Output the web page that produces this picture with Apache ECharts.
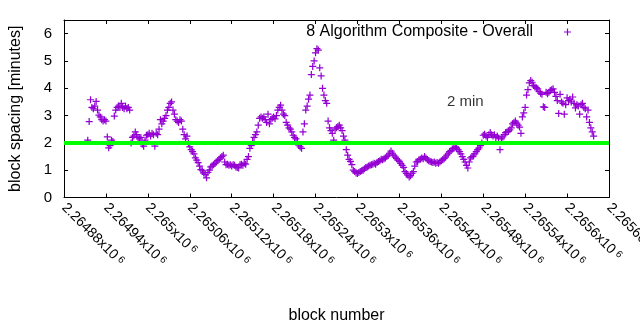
<!DOCTYPE html>
<html>
<head>
<meta charset="utf-8">
<script src="https://cdn.jsdelivr.net/npm/echarts@6/dist/echarts.min.js"></script>
<style>html,body{margin:0;padding:0;background:#fff;}#c{width:640px;height:330px;}</style>
</head>
<body>
<div id="c"></div>
<script>
// x range and ticks (block numbers)
const xMin = 2264880, xMax = 2265660, xStep = 60;
const yMin = 0, yMax = 6.5, yStep = 1;
// consecutive blocks sampled every 2 blocks
const firstBlock = 2264914, blockStep = 2;
const seriesName = '8 Algorithm Composite - Overall';
const spacing = [
2.1,2.78,3.58,3.3,3.25,3.35,3.52,3.2,3.02,2.95,
2.85,2.8,2.85,2.8,2.22,1.82,1.9,2.1,2.05,2.98,
3.2,3.3,3.35,3.3,3.45,3.3,3.25,3.35,3.25,3.3,
3.2,2.0,2.2,2.25,2.4,2.3,2.2,2.15,2.2,1.95,
1.88,2.1,2.28,2.3,2.35,2.25,2.35,2.3,1.88,2.35,
2.3,2.5,2.85,2.7,2.8,2.9,3.0,3.2,3.3,3.45,
3.5,3.2,3.05,2.85,2.8,2.75,2.85,2.8,2.5,2.3,
2.15,2.25,1.98,1.85,1.75,1.68,1.6,1.45,1.37,1.28,
1.15,1.02,0.98,0.9,0.85,0.72,0.92,1.0,1.12,1.15,
1.2,1.25,1.3,1.35,1.4,1.45,1.5,1.55,1.3,1.2,
1.22,1.18,1.2,1.15,1.2,1.18,1.12,1.1,1.08,1.2,
1.22,1.18,1.25,1.22,1.4,1.5,1.8,1.9,2.05,2.2,
2.3,2.4,2.65,2.9,2.95,2.9,2.95,2.85,2.75,3.05,
2.7,2.85,2.9,2.95,2.88,3.0,3.2,3.3,3.38,3.2,
3.05,3.0,2.75,2.65,2.55,2.5,2.4,2.28,2.2,2.15,
2.05,1.92,1.85,1.8,2.4,2.7,3.2,3.35,3.6,3.75,
4.5,4.8,5.0,5.3,5.45,5.4,4.75,4.45,4.0,3.75,
3.55,3.45,2.8,2.55,2.45,2.35,2.1,2.5,2.55,2.6,
2.65,2.55,2.45,2.25,2.1,1.75,1.55,1.4,1.32,1.2,
1.0,0.95,0.9,0.88,0.92,0.95,0.98,1.0,1.05,1.1,
1.12,1.15,1.18,1.2,1.22,1.25,1.22,1.28,1.32,1.35,
1.4,1.38,1.42,1.45,1.5,1.55,1.62,1.7,1.62,1.55,
1.48,1.42,1.37,1.32,1.25,1.18,1.1,0.95,0.88,0.82,
0.75,0.8,0.88,0.95,1.15,1.3,1.32,1.38,1.4,1.45,
1.42,1.5,1.45,1.38,1.35,1.32,1.3,1.28,1.3,1.25,
1.28,1.25,1.3,1.35,1.38,1.42,1.48,1.55,1.62,1.68,
1.72,1.78,1.8,1.85,1.82,1.75,1.68,1.6,1.5,1.4,
1.3,1.18,1.08,1.3,1.45,1.5,1.52,1.6,1.68,1.75,
1.82,1.9,2.0,2.28,2.32,2.25,2.2,2.3,2.38,2.3,
2.25,2.3,2.2,2.25,2.18,1.75,2.15,2.22,2.3,2.38,
2.4,2.42,2.48,2.55,2.7,2.75,2.8,2.72,2.65,2.58,
2.35,2.95,3.1,3.3,3.75,3.95,4.2,4.28,4.22,4.1,
4.05,4.02,3.98,3.88,3.82,3.78,3.32,3.3,3.85,3.8,
3.85,3.92,3.95,3.98,3.85,3.7,3.55,3.08,3.78,3.5,
3.45,3.05,3.4,3.65,3.55,3.6,3.5,3.68,3.45,3.28,
3.4,3.35,3.05,3.4,3.45,3.3,3.25,2.95,3.2,2.75,
2.55,2.4,2.25
];
const refLevel = 2;
const refLabel = '2 min';
const refLabelPos = [2265428, 3.5];

const FONT = 'Liberation Sans';
const PLUS = 'path://M3.3,0h1.4v3.3h3.3v1.4h-3.3v3.3h-1.4v-3.3h-3.3v-1.4h3.3z';
const points = spacing.map((v, i) => [firstBlock + i * blockStep, v]);

function fmtX(v) {
  return '{m|' + parseFloat((v / 1e6).toPrecision(6)).toString() + 'x10}{s|6}';
}

const chart = echarts.init(document.getElementById('c'), null, {renderer: 'canvas'});
const axisCommon = {
  axisLine: {show: true, onZero: false, lineStyle: {color: '#000', width: 1}},
  axisTick: {show: true, inside: true, length: 4, lineStyle: {color: '#000'}},
  splitLine: {show: false}
};
chart.setOption({
  animation: false,
  backgroundColor: '#fff',
  textStyle: {fontFamily: FONT},
  grid: {left: 64, right: 31, top: 20, bottom: 132.5, containLabel: false, outerBoundsMode: 'none'},
  legend: {
    data: [{name: seriesName, icon: PLUS}],
    right: 69, top: 24, align: 'right', padding: 0,
    itemWidth: 7, itemHeight: 7,
    itemStyle: {color: '#9400d3'},
    textStyle: {fontFamily: FONT, fontSize: 16, color: '#000', padding: [6, 26, 0, 0]}
  },
  xAxis: [
    Object.assign({}, axisCommon, {
      type: 'value', min: xMin, max: xMax, interval: xStep, position: 'bottom',
      name: 'block number', nameLocation: 'middle', nameGap: 110,
      nameTextStyle: {fontFamily: FONT, fontSize: 16, color: '#000'},
      axisLabel: {
        rotate: -45, margin: 8, formatter: fmtX, color: '#000',
        showMinLabel: true, showMaxLabel: true, hideOverlap: false,
        rich: {
          m: {fontFamily: FONT, fontSize: 14, color: '#000'},
          s: {fontFamily: FONT, fontSize: 10, color: '#000', verticalAlign: 'top', padding: [0, 0, 0, 3]}
        }
      }
    }),
    Object.assign({}, axisCommon, {
      type: 'value', min: xMin, max: xMax, interval: xStep, position: 'top',
      axisLabel: {show: false}
    })
  ],
  yAxis: [
    Object.assign({}, axisCommon, {
      type: 'value', min: yMin, max: yMax, interval: yStep, position: 'left',
      name: 'block spacing [minutes]', nameLocation: 'middle', nameGap: 40,
      nameTextStyle: {fontFamily: FONT, fontSize: 16, color: '#000'},
      axisLabel: {fontFamily: FONT, fontSize: 15, color: '#000', margin: 12}
    }),
    Object.assign({}, axisCommon, {
      type: 'value', min: yMin, max: yMax, interval: yStep, position: 'right',
      axisLabel: {show: false}
    })
  ],
  series: [
    {
      name: seriesName, type: 'scatter', data: points,
      symbol: PLUS, symbolSize: 7,
      itemStyle: {color: '#9400d3', opacity: 1},
      z: 2
    },
    {
      name: 'ref', type: 'line', data: [[xMin, refLevel], [xMax, refLevel]],
      symbol: 'none', lineStyle: {color: '#00ff00', width: 4}, z: 3
    },
    {
      name: 'lbl', type: 'scatter', data: [refLabelPos], symbolSize: 0,
      label: {show: true, position: 'right', distance: 0, formatter: refLabel,
        fontFamily: FONT, fontSize: 15, color: '#000'},
      z: 4
    }
  ]
});
</script>
</body>
</html>
